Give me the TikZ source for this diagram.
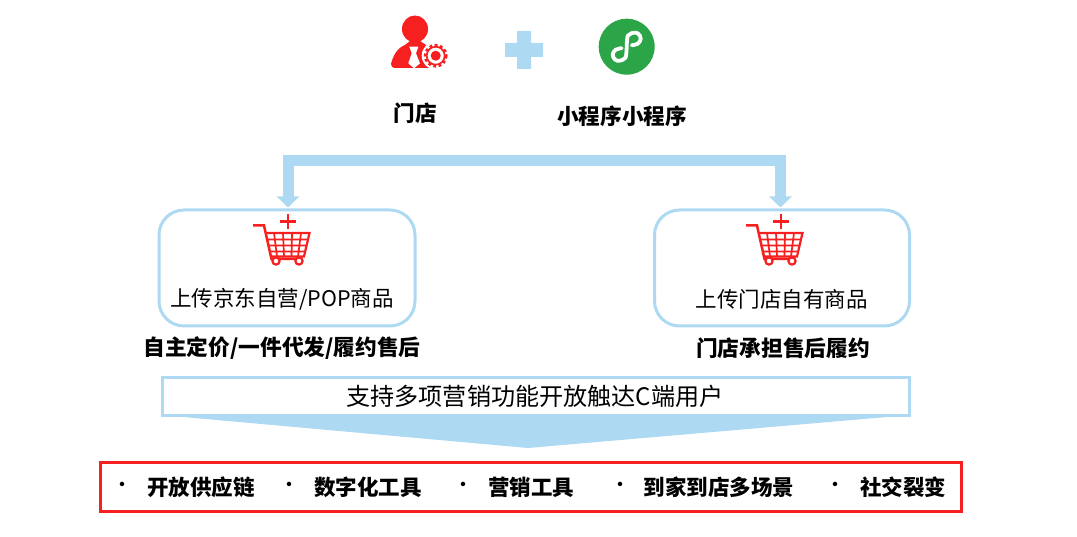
\documentclass[tikz,border=0pt]{standalone}
\usepackage{fontspec}
\setmainfont{Noto Sans CJK SC}
\usetikzlibrary{arrows.meta}
\definecolor{lblue}{HTML}{ADD9F2}
\definecolor{cred}{HTML}{F5201F}
\definecolor{cgreen}{HTML}{2BA548}
\tikzset{
  x=1pt,y=-1pt,
  title/.style={font=\fontsize{21.6}{26}\selectfont\bfseries,inner sep=0pt},
  plain/.style={font=\fontsize{21.5}{26}\selectfont,inner sep=0pt},
  subt/.style={font=\fontsize{21.7}{26}\selectfont\bfseries,inner sep=0pt},
  item/.style={font=\fontsize{21.5}{26}\selectfont\bfseries,inner sep=0pt},
  dotmark/.style={font=\fontsize{16}{18}\selectfont\bfseries,inner sep=0pt},
  card/.style={draw=lblue,line width=3pt,rounded corners=25pt,fill=white,anchor=north west,inner sep=0pt},
  carticon/.style={draw=cred,line width=1.8pt,line join=miter},
}
\newcommand{\carticon}[1]{%
  \begin{scope}[shift={#1}]
    \draw[cred,line width=2.6pt] (-8,0) -- (8,0) (0,-7.5) -- (0,7.5);
    \draw[carticon,line width=2.5pt] (-35,4) -- (-24,4) -- (-16.5,37.5) -- (14,37.5);
    \draw[carticon,line width=2.2pt] (-23,11.5) -- (21.5,11.5) -- (16,35) -- (-17,35);
    \draw[carticon,line width=1.7pt]
      (-21,18) -- (20,18) (-20,24) -- (19,24) (-18.5,30) -- (17.5,30)
      (-14,11.5) -- (-11,35) (-5,11.5) -- (-4,35) (4,11.5) -- (3.5,35) (13,11.5) -- (10,35);
    \draw[carticon,fill=white,line width=2.2pt] (-12,39.5) circle (3.6) (11,39.5) circle (3.6);
  \end{scope}}
\begin{document}
\begin{tikzpicture}
\useasboundingbox (0,0) rectangle (1077,537);
% person icon
\fill[cred] (415,29) ellipse (13 and 13.5);
\fill[cred] (391,64) .. controls (393,56) and (397,48) .. (405,45) -- (410,41) -- (420,41) -- (426,45)
  .. controls (434,49) and (437,58) .. (437,68) -- (396,68) .. controls (392,68) and (391,66) .. (391,64) -- cycle;
\fill[white] (409.3,46.7) -- (418.3,46.7) -- (416,53.3) -- (420,63.3) -- (414,68.3) -- (408.3,63.3) -- (411.7,53.3) -- cycle;
\fill[white] (435.7,55.7) circle (14);
\draw[cred,line width=1.7pt] (435.7,55.7) circle (9);
\draw[cred,line width=2.6pt,dash pattern=on 2.8pt off 2.6pt] (435.7,55.7) circle (10.6);
\fill[cred] (435.7,55.7) circle (5);
% plus
\fill[lblue] (517,31) -- (531,31) -- (531,43) -- (543,43) -- (543,57) -- (531,57) -- (531,69) -- (517,69) -- (517,57) -- (505,57) -- (505,43) -- (517,43) -- cycle;
% mini program logo
\fill[cgreen] (626.7,46.7) circle (28);
\begin{scope}[shift={(626.7,46.7)}]
\draw[white,line width=3.8pt,line cap=round] plot[smooth,tension=0.7] coordinates {(-5,1.5) (-11,3) (-14,8) (-11.5,13) (-7,14) (-2.5,12) (-0.5,8) (0.5,-8) (2.5,-12) (7,-14) (11.5,-13) (14,-8) (11,-3) (5,-1.5)};
\end{scope}
% labels
\node[title] (store) at (415,113) {门店};
\node[title] (mini) at (622,116) {小程序小程序};
% cards
\node[card,minimum width=256pt,minimum height=116pt] (cardL) at (157.5,208.5) {};
\node[card,minimum width=255pt,minimum height=116pt] (cardR) at (653,208.5) {};
\carticon{(288,221.5)}
\carticon{(781,221.5)}
\node[plain] (textL) at (282,299) {上传京东自营/POP商品};
\node[plain] (textR) at (781.5,299) {上传门店自有商品};
% top connector
\coordinate (tipL) at (288,207.5);
\coordinate (tipR) at (780.5,207.5);
\coordinate (barTop) at (534,160.5);
\draw[lblue,line width=11pt,line join=miter,{Triangle[width=22pt,length=11pt]}-{Triangle[width=22pt,length=11pt]}]
  (tipL) |- (barTop) -| (tipR);
% captions
\node[subt] (capL) at (282,348) {自主定价/一件代发/履约售后};
\node[subt] (capR) at (783,348) {门店承担售后履约};
% banner
\fill[lblue] (161,415) -- (910,415) -- (528,448) -- cycle;
\node[draw=lblue,line width=3pt,fill=white,anchor=north west,minimum width=747pt,minimum height=38pt,inner sep=0pt] (banner) at (161,376) {};
\node[font=\fontsize{24.1}{29}\selectfont,inner sep=0pt] (bannerText) at (535,396) {支持多项营销功能开放触达C端用户};
% red list
\node[draw=cred,line width=3pt,anchor=north west,minimum width=861pt,minimum height=49pt,inner sep=0pt] (list) at (99,460.5) {};
\foreach \bx/\tx/\lab/\nm in {122/201/开放供应链/a,289/368/数字化工具/b,463/531/营销工具/c,620/719/到家到店多场景/d,835/903/社交裂变/e}{
  \node[dotmark] (dot\nm) at (\bx,486.5) {•};
  \node[item] (item\nm) at (\tx,487) {\lab};
}
\end{tikzpicture}
\end{document}
